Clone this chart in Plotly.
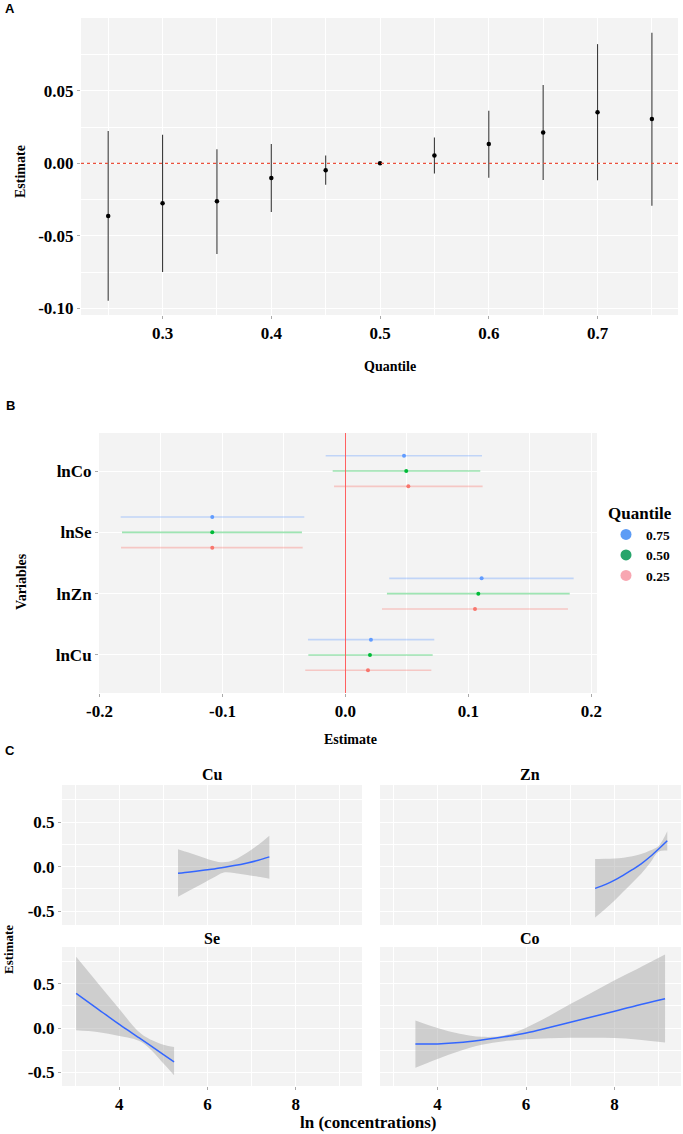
import plotly.graph_objects as go

W, H = 683, 1134
SERIF = "Liberation Serif, Times New Roman, serif"
SANS = "Liberation Sans, Arial, sans-serif"

# ---------------- Panel A data ----------------
quantile_a = [0.25, 0.30, 0.35, 0.40, 0.45, 0.50, 0.55, 0.60, 0.65, 0.70, 0.75]
estimate_a = [-0.0363, -0.0275, -0.0261, -0.0101, -0.0048, 0.0, 0.0053, 0.0133, 0.0213, 0.0351, 0.0305]
lower_a = [-0.0946, -0.0748, -0.0624, -0.0335, -0.0147, 0.0, -0.0071, -0.0099, -0.0115, -0.0117, -0.0292]
upper_a = [0.0222, 0.0197, 0.0096, 0.0133, 0.0053, 0.0, 0.0177, 0.0362, 0.0539, 0.0821, 0.0900]
a_xticks = [0.3, 0.4, 0.5, 0.6, 0.7]
a_xticklabels = ["0.3", "0.4", "0.5", "0.6", "0.7"]
a_yticks = [-0.10, -0.05, 0.0, 0.05]
a_yticklabels = ["-0.10", "-0.05", "0.00", "0.05"]

# ---------------- Panel B data ----------------
variables_b = ["lnCu", "lnZn", "lnSe", "lnCo"]
quantile_labels_b = ["0.75", "0.50", "0.25"]
est_b_075 = [0.0207, 0.1107, -0.1083, 0.0476]
lo_b_075 = [-0.0305, 0.0356, -0.1828, -0.0161]
hi_b_075 = [0.0722, 0.1855, -0.0335, 0.1110]
est_b_050 = [0.0199, 0.1080, -0.1083, 0.0494]
lo_b_050 = [-0.0302, 0.0337, -0.1817, -0.0104]
hi_b_050 = [0.0709, 0.1823, -0.0354, 0.1096]
est_b_025 = [0.0183, 0.1053, -0.1083, 0.0511]
lo_b_025 = [-0.0327, 0.0297, -0.1825, -0.0093]
hi_b_025 = [0.0698, 0.1809, -0.0348, 0.1115]
b_xticks = [-0.2, -0.1, 0.0, 0.1, 0.2]
b_xticklabels = ["-0.2", "-0.1", "0.0", "0.1", "0.2"]

# ---------------- Panel C data ----------------
cu_x = [5.33, 5.6, 5.9, 6.15, 6.35, 6.6, 6.9, 7.15, 7.4]
cu_fit = [-0.075, -0.060, -0.041, -0.026, -0.009, 0.011, 0.041, 0.071, 0.109]
cu_upper = [0.195, 0.153, 0.103, 0.064, 0.049, 0.075, 0.158, 0.244, 0.346]
cu_lower = [-0.338, -0.266, -0.186, -0.120, -0.068, -0.071, -0.094, -0.113, -0.135]

zn_x = [7.56, 7.8, 8.0, 8.2, 8.4, 8.6, 8.8, 9.0, 9.19]
zn_fit = [-0.244, -0.200, -0.152, -0.095, -0.035, 0.030, 0.110, 0.200, 0.290]
zn_upper = [0.086, 0.088, 0.092, 0.100, 0.115, 0.140, 0.180, 0.235, 0.395]
zn_lower = [-0.571, -0.470, -0.380, -0.280, -0.180, -0.080, 0.040, 0.170, 0.180]

se_x = [3.02, 3.5, 4.0, 4.5, 5.0, 5.24]
se_fit = [0.39, 0.22, 0.04, -0.128, -0.300, -0.383]
se_upper = [0.805, 0.515, 0.214, -0.068, -0.190, -0.214]
se_lower = [-0.026, -0.045, -0.090, -0.158, -0.400, -0.534]

co_x = [3.5, 4.0, 4.5, 5.0, 5.5, 6.0, 6.5, 7.0, 7.5, 8.0, 8.5, 9.14]
co_fit = [-0.180, -0.180, -0.165, -0.135, -0.100, -0.056, 0.003, 0.066, 0.128, 0.190, 0.255, 0.330]
co_upper = [0.086, 0.000, -0.065, -0.100, -0.085, 0.004, 0.130, 0.270, 0.405, 0.540, 0.665, 0.830]
co_lower = [-0.450, -0.350, -0.260, -0.190, -0.150, -0.128, -0.115, -0.110, -0.110, -0.113, -0.130, -0.165]

c_xticks = [4, 6, 8]
c_xticklabels = ["4", "6", "8"]
c_yticks = [-0.5, 0.0, 0.5]
c_yticklabels = ["-0.5", "0.0", "0.5"]


def px(x):
    return x / W


def py(y):
    return 1 - y / H


BG = "#F3F3F3"
fig = go.Figure()

# ---------- Panel A ----------
fig.add_trace(go.Scatter(
    x=quantile_a, y=estimate_a, mode="markers", xaxis="x", yaxis="y",
    marker=dict(color="black", size=4.5),
    error_y=dict(type="data", symmetric=False,
                 array=[u - e for u, e in zip(upper_a, estimate_a)],
                 arrayminus=[e - l for e, l in zip(estimate_a, lower_a)],
                 color="#3c3c3c", thickness=1.1, width=0),
    showlegend=False, hoverinfo="skip"))

# ---------- Panel B ----------
b_series = [
    ("0.75", est_b_075, lo_b_075, hi_b_075, "#619CFF", "rgba(97,156,255,0.35)", 0.25),
    ("0.50", est_b_050, lo_b_050, hi_b_050, "#00BA38", "rgba(0,186,56,0.38)", 0.0),
    ("0.25", est_b_025, lo_b_025, hi_b_025, "#F8766D", "rgba(248,118,109,0.35)", -0.25),
]
for name, est, lo, hi, col, lcol, off in b_series:
    ypos = [i + 1 + off for i in range(len(variables_b))]
    fig.add_trace(go.Scatter(
        x=est, y=ypos, mode="markers", xaxis="x2", yaxis="y2",
        marker=dict(color=col, size=4),
        error_x=dict(type="data", symmetric=False,
                     array=[h - e for h, e in zip(hi, est)],
                     arrayminus=[e - l for e, l in zip(est, lo)],
                     color=lcol, thickness=1.6, width=0),
        showlegend=False, hoverinfo="skip"))

legend_colors = {"0.75": "#5D9CF5", "0.50": "#27A56B", "0.25": "#F8A7B2"}
for name in quantile_labels_b:
    fig.add_trace(go.Scatter(
        x=[None], y=[None], mode="markers", xaxis="x2", yaxis="y2", name=name,
        marker=dict(color=legend_colors[name], size=11), showlegend=True))

# ---------- Panel C ----------
facets = [
    ("Cu", cu_x, cu_fit, cu_upper, cu_lower, "x3", "y3"),
    ("Zn", zn_x, zn_fit, zn_upper, zn_lower, "x4", "y4"),
    ("Se", se_x, se_fit, se_upper, se_lower, "x5", "y5"),
    ("Co", co_x, co_fit, co_upper, co_lower, "x6", "y6"),
]
for name, xs, fit, up, lo, xa, ya in facets:
    fig.add_trace(go.Scatter(x=xs, y=up, mode="lines", line=dict(width=0, shape="spline"),
                             xaxis=xa, yaxis=ya, showlegend=False, hoverinfo="skip"))
    fig.add_trace(go.Scatter(x=xs, y=lo, mode="lines", line=dict(width=0, shape="spline"),
                             fill="tonexty", fillcolor="rgba(150,150,150,0.4)",
                             xaxis=xa, yaxis=ya, showlegend=False, hoverinfo="skip"))
    fig.add_trace(go.Scatter(x=xs, y=fit, mode="lines", line=dict(color="#3366FF", width=1.5, shape="spline"),
                             xaxis=xa, yaxis=ya, showlegend=False, hoverinfo="skip"))

tickfont = dict(family=SERIF, size=17, color="black", weight="bold")


def axis(domain, rng, tickvals=None, ticktext=None, minor=None, anchor=None, showlabels=True):
    d = dict(domain=domain, range=rng, showgrid=True, gridcolor="white", gridwidth=1.2,
             zeroline=False, showline=False, ticks="outside" if showlabels else "",
             ticklen=3, tickcolor="#aaaaaa", tickfont=tickfont, fixedrange=True,
             automargin=False)
    if tickvals is not None:
        d.update(tickmode="array", tickvals=tickvals)
        d["ticktext"] = ticktext if showlabels else [""] * len(tickvals)
    if minor is not None:
        d["minor"] = dict(tickmode="array", tickvals=minor, showgrid=True,
                          gridcolor="white", gridwidth=0.6, ticks="")
    if anchor:
        d["anchor"] = anchor
    return d


layout = dict(
    width=W, height=H, autosize=False,
    margin=dict(l=0, r=0, t=0, b=0, pad=0),
    paper_bgcolor="white", plot_bgcolor=BG,
    font=dict(family=SERIF, color="black"),
)

# Panel A axes
layout["xaxis"] = axis([px(81), px(678)], [0.225, 0.774], a_xticks, a_xticklabels,
                       [0.25, 0.35, 0.45, 0.55, 0.65, 0.75], anchor="y")
layout["yaxis"] = axis([py(315), py(18)], [-0.1045, 0.1001], a_yticks, a_yticklabels,
                       [-0.075, -0.025, 0.025, 0.075], anchor="x")
# Panel B axes (red reference line at zero drawn as the axis zeroline)
layout["xaxis2"] = axis([px(99), px(597)], [-0.2004, 0.2045], b_xticks, b_xticklabels,
                        [-0.15, -0.05, 0.05, 0.15], anchor="y2")
layout["xaxis2"].update(zeroline=True, zerolinecolor="#FF6060", zerolinewidth=1.2, zerolinelayer="above traces")
layout["yaxis2"] = axis([py(693), py(433)], [0.38, 4.62], [1, 2, 3, 4], variables_b, anchor="x2")
# Panel C axes
crng_x = [2.70, 9.50]
crng_y = [-0.655, 0.915]
cminx = [3, 5, 7, 9]
cminy = [-0.25, 0.25, 0.75]
layout["xaxis3"] = axis([px(62), px(362)], crng_x, c_xticks, c_xticklabels, cminx, "y3", False)
layout["yaxis3"] = axis([py(925), py(785)], crng_y, c_yticks, c_yticklabels, cminy, "x3", True)
layout["xaxis4"] = axis([px(380), px(681)], crng_x, c_xticks, c_xticklabels, cminx, "y4", False)
layout["yaxis4"] = axis([py(925), py(785)], crng_y, c_yticks, c_yticklabels, cminy, "x4", False)
layout["xaxis5"] = axis([px(62), px(362)], crng_x, c_xticks, c_xticklabels, cminx, "y5", True)
layout["yaxis5"] = axis([py(1086), py(947)], crng_y, c_yticks, c_yticklabels, cminy, "x5", True)
layout["xaxis6"] = axis([px(380), px(681)], crng_x, c_xticks, c_xticklabels, cminx, "y6", True)
layout["yaxis6"] = axis([py(1086), py(947)], crng_y, c_yticks, c_yticklabels, cminy, "x6", False)

layout["legend"] = dict(
    x=px(606), y=py(497), xanchor="left", yanchor="top",
    title=dict(text="Quantile", font=dict(family=SERIF, size=17, weight="bold", color="black")),
    font=dict(family=SERIF, size=13.5, weight="bold", color="black"),
    bgcolor="rgba(0,0,0,0)", itemsizing="trace", tracegroupgap=0, traceorder="normal",
)

fig.update_layout(**layout)

# Dotted zero reference line in panel A
fig.add_shape(type="line", xref="x domain", yref="y", x0=0, x1=1, y0=0, y1=0,
              layer="above", opacity=1,
              line=dict(color="rgb(235,80,60)", width=1.3, dash="dot"))


def ann(text, x, y, size, family=SERIF, angle=0, xanchor="center", yanchor="middle"):
    fig.add_annotation(text=text, x=px(x), y=py(y), xref="paper", yref="paper",
                       showarrow=False, textangle=angle, xanchor=xanchor, yanchor=yanchor,
                       font=dict(family=family, size=size, color="black", weight="bold"))


# Panel letters
ann("A", 10, 9, 13, SANS)
ann("B", 10, 405, 13, SANS)
ann("C", 10, 750, 13, SANS)

# Axis titles
ann("Estimate", 20, 172, 14, angle=-90)
ann("Quantile", 390, 366, 14)
ann("Variables", 21, 582, 14, angle=-90)
ann("Estimate", 350, 739, 14)
ann("Estimate", 8, 950, 13, angle=-90)
ann("ln (concentrations)", 368, 1122, 17)

# Facet strip titles
ann("Cu", 212, 774, 16)
ann("Zn", 530, 774, 16)
ann("Se", 212, 938, 16)
ann("Co", 530, 938, 16)

fig.write_html("out.html", config={"displayModeBar": False},
               post_script="document.body.style.margin='0';")
